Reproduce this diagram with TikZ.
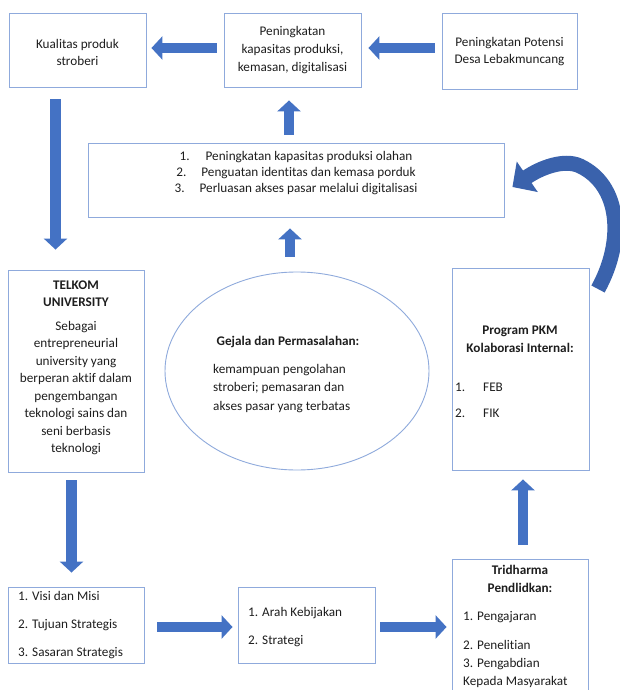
\documentclass[tikz,border=0pt]{standalone}
\usepackage{fontspec}
\setmainfont{Carlito}[Ligatures={NoCommon}]
\usetikzlibrary{arrows.meta,shapes.geometric}
\definecolor{boxline}{HTML}{8FAADC}
\definecolor{arrowblue}{HTML}{4472C4}
\definecolor{curveblue}{HTML}{3A62AC}
\definecolor{txt}{HTML}{1E1E1E}
\begin{document}
\begin{tikzpicture}[x=1pt,y=-1pt,
  box/.style={draw=boxline,line width=0.9pt,rectangle,inner sep=0pt,fill=white},
  ellbox/.style={draw=boxline,line width=0.9pt,ellipse,inner sep=0pt,fill=white},
  txtnode/.style={text=txt,inner sep=0pt,font=\fontsize{13.2}{17}\selectfont},
  blockarrow/.style={draw=arrowblue,line width=10.5pt,-{Triangle[width=23pt,length=11pt]}},
  curvearrow/.style={draw=curveblue,line width=15pt,-{Triangle[width=36pt,length=18pt]}}
]
\useasboundingbox (0,0) rectangle (620,690);
\fill[white] (0,0) rectangle (620,690);
\clip (0,0) rectangle (620,690);

% boxes
\node[box,minimum width=137pt,minimum height=74pt] (kual) at (77.5,50) {};
\node[box,minimum width=137pt,minimum height=74pt] (penk) at (292.5,50) {};
\node[box,minimum width=135pt,minimum height=76pt] (pot) at (509.5,51) {};
\node[box,minimum width=416pt,minimum height=74pt] (big) at (296,180) {};
\node[box,minimum width=136pt,minimum height=202pt] (tel) at (76,371) {};
\node[ellbox,minimum width=264pt,minimum height=198pt] (ell) at (297,371) {};
\node[box,minimum width=137pt,minimum height=202pt] (pkm) at (520.5,369) {};
\node[box,minimum width=136pt,minimum height=76pt] (visi) at (76,625) {};
\node[box,minimum width=137pt,minimum height=76pt] (arah) at (306.5,625) {};
\node[box,minimum width=136pt,minimum height=161pt] (tri) at (520,639.5) {};

% straight arrows
\draw[blockarrow,shorten <=7pt,shorten >=5pt] ([yshift=2pt]penk.west) -- ([yshift=2pt]kual.east);
\draw[blockarrow,shorten <=7pt,shorten >=7pt] ([yshift=3pt]pot.west) -- ([yshift=2pt]penk.east);
\draw[blockarrow,shorten <=12pt,shorten >=20pt] ([xshift=-22pt]kual.south) -- ([xshift=-20.5pt]tel.north);
\draw[blockarrow,shorten <=8pt,shorten >=13pt] ([xshift=-7pt]big.north) -- ([xshift=-3.5pt]penk.south);
\draw[blockarrow,shorten <=15pt,shorten >=11pt] ([xshift=-7pt]ell.north) -- ([xshift=-6pt]big.south);
\draw[blockarrow,shorten <=8pt,shorten >=14pt] ([xshift=-4.5pt]tel.south) -- ([xshift=-4.5pt]visi.north);
\draw[blockarrow,shorten <=13pt,shorten >=5pt] ([yshift=-2pt]visi.east) -- ([yshift=-2pt]arah.west);
\draw[blockarrow,shorten <=5pt,shorten >=5pt] ([yshift=-2pt]arah.east) -- ([yshift=-2pt]arah.east -| tri.west);
\draw[blockarrow,shorten <=14pt,shorten >=9pt] ([xshift=3pt]tri.north) -- ([xshift=2.5pt]pkm.south);

% curved arrow
\coordinate (cstart) at (598,289);
\coordinate (ctop) at (580,166);
\draw[curvearrow] (cstart) .. controls (625,240) and (620,185) .. (ctop)
  .. controls (564,158.4) and (540,168) .. ([xshift=8pt,yshift=-7pt]big.east);

% texts
\node[txtnode,align=center] (kualt) at (77.5,52) {Kualitas produk\\stroberi};
\node[txtnode,align=center,font=\fontsize{13.2}{18}\selectfont] (penkt) at (292.5,50) {Peningkatan\\kapasitas produksi,\\kemasan, digitalisasi};
\node[txtnode,align=center] (pott) at (509.5,51.5) {Peningkatan Potensi\\Desa Lebakmuncang};
\node[txtnode,align=center,font=\fontsize{13.2}{16}\selectfont] (bigt) at (296,173) {1.\hspace{16pt}Peningkatan kapasitas produksi olahan\\2.\hspace{15pt}Penguatan identitas dan kemasa porduk\\3.\hspace{15pt}Perluasan akses pasar melalui digitalisasi};
\node[txtnode,align=center,font=\bfseries\fontsize{13.2}{17}\selectfont] (telt) at (76,293.5) {TELKOM\\UNIVERSITY};
\node[txtnode,align=center,font=\fontsize{13.2}{17.5}\selectfont] (telb) at (76,388) {Sebagai\\entrepreneurial\\university yang\\berperan aktif dalam\\pengembangan\\teknologi sains dan\\seni berbasis\\teknologi};
\node[txtnode,font=\bfseries\fontsize{13.2}{17}\selectfont] (ellt) at (288,342) {Gejala dan Permasalahan:};
\node[txtnode,align=left,anchor=west,font=\fontsize{13.2}{18.5}\selectfont] (ellb) at (213,388.5) {kemampuan pengolahan\\stroberi; pemasaran dan\\akses pasar yang terbatas};
\node[txtnode,align=center,font=\bfseries\fontsize{13.2}{18}\selectfont] (pkmt) at (520,339) {Program PKM\\Kolaborasi Internal:};
\node[txtnode,align=left,anchor=west,font=\fontsize{13.2}{26}\selectfont] (pkml) at (455,400) {1.\hspace{18pt}FEB\\2.\hspace{18pt}FIK};
\node[txtnode,align=left,anchor=west,font=\fontsize{13.2}{28}\selectfont] (visit) at (18,625) {1. Visi dan Misi\\2. Tujuan Strategis\\3. Sasaran Strategis};
\node[txtnode,align=left,anchor=west,font=\fontsize{13.2}{28}\selectfont] (araht) at (248,627) {1. Arah Kebijakan\\2. Strategi};
\node[txtnode,align=center,font=\bfseries\fontsize{13.2}{18}\selectfont] (trit) at (520,579) {Tridharma\\Pendlidkan:};
\node[txtnode,align=left,anchor=west,font=\fontsize{13.2}{18}\selectfont] (trib) at (463,649.5) {1. Pengajaran\\[11pt]2. Penelitian\\3. Pengabdian\\Kepada Masyarakat};
\end{tikzpicture}
\end{document}
